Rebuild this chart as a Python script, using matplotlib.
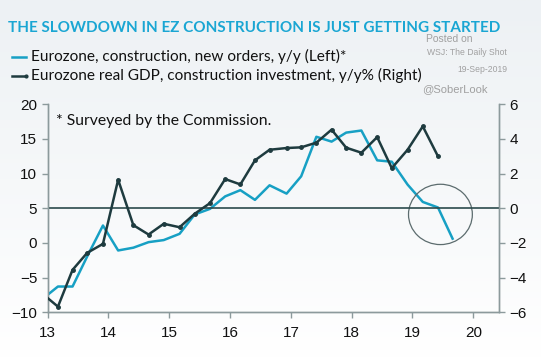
import numpy as np
import matplotlib
matplotlib.use("Agg")
import matplotlib.pyplot as plt
from matplotlib.patches import Ellipse

# Eurozone construction new orders, y/y (left axis)
orders_x = [13.0, 13.17, 13.41, 13.66, 13.91, 14.16, 14.41, 14.66, 14.91, 15.17, 15.42,
            15.67, 15.92, 16.17, 16.41, 16.65, 16.93, 17.17, 17.42, 17.67, 17.91, 18.16,
            18.42, 18.66, 18.92, 19.17, 19.42, 19.66]
orders_y = [-7.5, -6.3, -6.3, -1.8, 2.5, -1.1, -0.7, 0.1, 0.4, 1.3, 4.1,
            4.9, 6.7, 7.6, 6.2, 8.3, 7.1, 9.6, 15.3, 14.6, 15.9, 16.2,
            11.9, 11.7, 8.4, 5.9, 5.1, 0.6]

# Eurozone real GDP, construction investment, y/y% (right axis)
gdp_x = [12.92, 13.17, 13.41, 13.65, 13.91, 14.16, 14.41, 14.66, 14.91, 15.17, 15.42,
         15.67, 15.92, 16.17, 16.41, 16.65, 16.93, 17.17, 17.42, 17.67, 17.91, 18.16,
         18.42, 18.66, 18.92, 19.17, 19.42]
gdp_y = [-4.95, -5.68, -3.56, -2.58, -2.06, 1.64, -0.98, -1.52, -0.9, -1.1, -0.32,
         0.29, 1.68, 1.37, 2.76, 3.37, 3.47, 3.51, 3.78, 4.53, 3.49, 3.2,
         4.1, 2.31, 3.37, 4.72, 2.99]

year_ticks = [13, 14, 15, 16, 17, 18, 19, 20]

cyan = '#17a0c4'
dark = '#1e3b3f'
spine = '#8c9a9c'

plt.rcParams['font.family'] = ['Liberation Sans', 'DejaVu Sans']

fig = plt.figure(figsize=(5.41, 3.58), dpi=100)

# background gradient
bg = fig.add_axes([0, 0, 1, 1], zorder=-10)
grad = np.linspace(0, 1, 256).reshape(-1, 1)
bg.imshow(grad, aspect='auto', cmap=matplotlib.colors.LinearSegmentedColormap.from_list(
    'bg', ['#edf1f4', '#ffffff']), extent=[0, 1, 0, 1], origin='upper')
bg.set_axis_off()

ax = fig.add_axes([0.088, 0.128, 0.834, 0.581])
ax.patch.set_alpha(0)
ax2 = ax.twinx()

ax.plot(orders_x, orders_y, color=cyan, lw=1.8, zorder=3)
ax2.plot(gdp_x, gdp_y, color=dark, lw=1.8, marker='o', ms=2.5, zorder=4)
ax2.axhline(0, color='#2c4a4c', lw=1.2, zorder=2)

ax.set_xlim(13, 20.42)
ax.set_ylim(-10, 20)
ax2.set_ylim(-6, 6)
ax.set_xticks(year_ticks)
ax.set_xticklabels([str(y) for y in year_ticks])
ax.set_yticks(range(-10, 21, 5))
ax2.set_yticks(range(-6, 7, 2))

for a in (ax, ax2):
    a.spines['top'].set_visible(False)
    for s in ('left', 'right', 'bottom'):
        a.spines[s].set_color(spine)
        a.spines[s].set_linewidth(1.0)
    a.tick_params(colors=spine, labelcolor='#111111', labelsize=11, length=4, width=1)
ax.tick_params(axis='x', pad=6)

circ = Ellipse((19.46, 4.1), 1.05, 8.7, fill=False, edgecolor='#5c6c6e', lw=0.9, zorder=5)
ax.add_patch(circ)

ax.text(0.018, 0.955, '* Surveyed by the Commission.', transform=ax.transAxes,
        fontsize=11.3, color='#111111', va='top', ha='left', family='Lato')

# title and legend
fig.text(0.015, 0.923, 'THE SLOWDOWN IN EZ CONSTRUCTION IS JUST GETTING STARTED',
         color='#1aa6d3', fontsize=11.0, va='center', ha='left', family='Lato',
         fontweight='bold')
fig.lines.append(plt.Line2D([0.022, 0.048], [0.841, 0.841], color=cyan, lw=1.8,
                            transform=fig.transFigure))
fig.lines.append(plt.Line2D([0.022, 0.048], [0.788, 0.788], color=dark, lw=1.8,
                            marker='o', ms=2, markevery=[1], transform=fig.transFigure))
fig.text(0.057, 0.841, 'Eurozone, construction, new orders, y/y (Left)*',
         fontsize=11.1, color='#111111', va='center', ha='left', family='Lato')
fig.text(0.057, 0.788, 'Eurozone real GDP, construction investment, y/y% (Right)',
         fontsize=11.1, color='#111111', va='center', ha='left', family='Lato')

fig.text(0.787, 0.892, 'Posted on', fontsize=7.5, color='#a0a0a0', va='center', ha='left')
fig.text(0.937, 0.852, 'WSJ: The Daily Shot', fontsize=6.2, color='#a0a0a0',
         va='center', ha='right')
fig.text(0.937, 0.805, '19-Sep-2019', fontsize=6.2, color='#a0a0a0', va='center', ha='right')
fig.text(0.78, 0.751, '@SoberLook', fontsize=8, color='#a0a0a0', va='center', ha='left')

fig.savefig('out.png', dpi=100)
